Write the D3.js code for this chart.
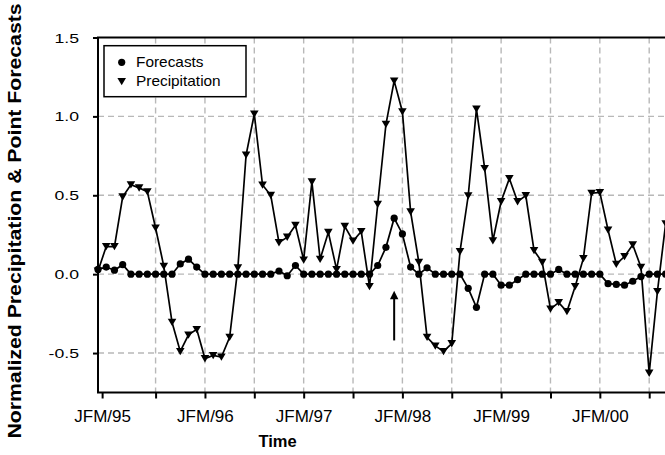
<!DOCTYPE html>
<html lang="en">
<head>
    <meta charset="UTF-8">
    <title>Normalized Precipitation & Point Forecasts</title>
    <style>
        body { margin: 0; background: #fff; }
        svg { display: block; font-family: "Liberation Sans", Arial, sans-serif; }
    </style>
</head>
<body>

    <svg width="665" height="455"></svg>

    <script src="https://cdn.jsdelivr.net/npm/d3@7"></script>

    <script>

        // monthly running seasons, first point is JFM/95 region
        var forecasts = [0.03, 0.045, 0.025, 0.06, 0, 0, 0, 0, 0, 0,
            0.065, 0.095, 0.045, 0, 0, 0, 0, 0, 0, 0,
            0, 0, 0.02, -0.01, 0.055, 0, 0, 0, 0, 0,
            0, 0, 0, 0, 0.055, 0.17, 0.355, 0.255, 0.045, 0,
            0.04, 0, 0, 0, 0, -0.09, -0.21, 0, 0, -0.07,
            -0.07, -0.035, 0, 0, 0, 0, 0.03, 0, 0, 0,
            0, 0, -0.06, -0.065, -0.07, -0.045, -0.015, 0, 0, 0];

        var precipitation = [0.02, 0.175, 0.175, 0.49, 0.567, 0.547, 0.522, 0.293, 0.05, -0.305,
            -0.49, -0.385, -0.35, -0.535, -0.515, -0.525, -0.40, 0.04, 0.755, 1.015,
            0.565, 0.50, 0.20, 0.235, 0.31, 0.09, 0.585, 0.095, 0.265, 0.03,
            0.303, 0.21, 0.27, -0.078, 0.443, 0.95, 1.225, 1.03, 0.395, 0.075,
            -0.40, -0.455, -0.49, -0.44, 0.143, 0.497, 1.047, 0.67, 0.212, 0.46,
            0.606, 0.46, 0.498, 0.15, 0.075, -0.22, -0.18, -0.237, -0.078, 0.10,
            0.513, 0.518, 0.28, 0.063, 0.112, 0.186, 0.044, -0.627, -0.11, 0.32];

        var tickIndex = [0.5, 7, 13, 19, 25, 31, 37, 43, 49, 55, 61, 67];
        var seasonLabels = ["JFM/95", "JFM/96", "JFM/97", "JFM/98", "JFM/99", "JFM/00"];
        var labelIndex = [0.5, 13, 25, 37, 49, 61];
        var yTicks = [-0.5, 0, 0.5, 1.0, 1.5];

        // arrow marking the 97/98 event
        var arrowIndex = 36;
        var arrowFrom = -0.42;
        var arrowTo = -0.105;

        var svg = d3.select("svg");

        var x = d3.scaleLinear().domain([0, 67]).range([98, 649.2]);
        var y = d3.scaleLinear().domain([-0.75, 1.5]).range([392.5, 37.5]);

        // text in the original is drawn wider than plain Arial
        function stretch(sel, sx, dx, dy) {
            sel.attr("transform", "translate(" + dx + "," + dy + ") scale(" + sx + ",1)")
                .attr("x", 0).attr("y", 0);
        }

        var grid = svg.append("g")
            .attr("stroke", "#b8b8b8")
            .attr("stroke-width", 1.4)
            .attr("stroke-dasharray", "6,4");

        grid.selectAll(".hgrid")
            .data(yTicks.filter(d => d < 1.5))
            .enter().append("line")
            .attr("x1", x(0))
            .attr("x2", x(71))
            .attr("y1", d => y(d))
            .attr("y2", d => y(d));

        grid.selectAll(".vgrid")
            .data(tickIndex.filter(d => d > 1))
            .enter().append("line")
            .attr("x1", d => x(d))
            .attr("x2", d => x(d))
            .attr("y1", y(1.5))
            .attr("y2", y(-0.75));

        // axes
        var yAxis = svg.append("g")
            .attr("transform", "translate(" + x(0) + ",0)")
            .call(d3.axisLeft(y)
                .tickValues(yTicks)
                .tickSize(5)
                .tickSizeOuter(0)
                .tickFormat(d => d.toFixed(1)));

        var xAxis = svg.append("g")
            .attr("transform", "translate(0," + y(-0.75) + ")")
            .call(d3.axisBottom(x)
                .tickValues(tickIndex)
                .tickSize(6)
                .tickSizeOuter(0)
                .tickPadding(11)
                .tickFormat(function (d) {
                    var i = labelIndex.indexOf(d);
                    return i < 0 ? "" : seasonLabels[i];
                }));

        [yAxis, xAxis].forEach(function (g) {
            g.select(".domain").remove();
            g.selectAll(".tick line").attr("stroke", "#000").attr("stroke-width", 2);
            g.selectAll(".tick text")
                .attr("fill", "#000")
                .style("font-family", "\"Liberation Sans\", Arial, sans-serif");
        });

        xAxis.selectAll(".tick text").style("font-size", "17px");

        yAxis.selectAll(".tick text")
            .style("font-size", "12.8px")
            .attr("dy", null)
            .attr("dominant-baseline", "central")
            .each(function () { stretch(d3.select(this), 1.38, -19, 0); });

        // plot frame (right side runs off the picture)
        svg.append("rect")
            .attr("x", x(0))
            .attr("y", y(1.5))
            .attr("width", x(71) - x(0))
            .attr("height", y(-0.75) - y(1.5))
            .attr("fill", "none")
            .attr("stroke", "#000")
            .attr("stroke-width", 2);

        var line = d3.line()
            .x((d, i) => x(i))
            .y(d => y(d));

        svg.append("path")
            .datum(precipitation)
            .attr("fill", "none")
            .attr("stroke", "#000")
            .attr("stroke-width", 1.7)
            .attr("d", line);

        svg.append("path")
            .datum(forecasts)
            .attr("fill", "none")
            .attr("stroke", "#000")
            .attr("stroke-width", 1.7)
            .attr("d", line);

        function downTriangle(cx, cy) {
            return "M" + (cx - 4.3) + "," + (cy - 3.5) + "L" + (cx + 4.3) + "," + (cy - 3.5) +
                "L" + cx + "," + (cy + 3.8) + "Z";
        }

        svg.selectAll(".tri")
            .data(precipitation)
            .enter().append("path")
            .attr("class", "tri")
            .attr("d", (d, i) => downTriangle(x(i), y(d)))
            .attr("fill", "#000");

        svg.selectAll(".dot")
            .data(forecasts)
            .enter().append("circle")
            .attr("class", "dot")
            .attr("cx", (d, i) => x(i))
            .attr("cy", d => y(d))
            .attr("r", 3.6)
            .attr("fill", "#000");

        // arrow
        var ax = x(arrowIndex);
        svg.append("line")
            .attr("x1", ax)
            .attr("x2", ax)
            .attr("y1", y(arrowFrom))
            .attr("y2", y(arrowTo) + 6)
            .attr("stroke", "#000")
            .attr("stroke-width", 2);
        svg.append("path")
            .attr("d", "M" + ax + "," + y(arrowTo) + "L" + (ax + 4.2) + "," + (y(arrowTo) + 8.5) +
                "L" + (ax - 4.2) + "," + (y(arrowTo) + 8.5) + "Z")
            .attr("fill", "#000");

        // legend
        var legend = svg.append("g");
        legend.append("rect")
            .attr("x", 104)
            .attr("y", 45.7)
            .attr("width", 142)
            .attr("height", 51)
            .attr("fill", "#fff")
            .attr("stroke", "#000")
            .attr("stroke-width", 1.5);
        legend.append("circle")
            .attr("cx", 121.7)
            .attr("cy", 62.3)
            .attr("r", 3.6);
        legend.append("path")
            .attr("d", downTriangle(121.7, 81.5));
        legend.append("text")
            .style("font-size", "14px")
            .text("Forecasts")
            .call(stretch, 1.1, 136, 66.7);
        legend.append("text")
            .style("font-size", "14px")
            .text("Precipitation")
            .call(stretch, 1.1, 136, 85.7);

        // axis titles
        svg.append("text")
            .attr("x", 277.5)
            .attr("y", 447)
            .attr("text-anchor", "middle")
            .style("font-size", "16.5px")
            .style("font-weight", "bold")
            .text("Time");

        svg.append("text")
            .attr("transform", "translate(21,221) rotate(-90) scale(1.18,1)")
            .attr("text-anchor", "middle")
            .style("font-size", "18px")
            .style("font-weight", "bold")
            .text("Normalized Precipitation & Point Forecasts");

    </script>

</body>
</html>
